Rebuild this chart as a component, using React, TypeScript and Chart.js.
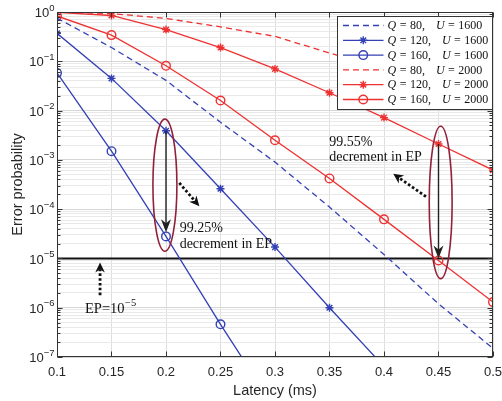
import { useEffect, useRef } from 'react';
import { Chart, registerables } from 'chart.js';

Chart.register(...registerables);

// ---------- data ----------
const latency = [0.1, 0.15, 0.2, 0.25, 0.3, 0.35, 0.4, 0.45, 0.5];
const xTickLabels = ['0.1', '0.15', '0.2', '0.25', '0.3', '0.35', '0.4', '0.45', '0.5'];
const yTickExponents = [0, -1, -2, -3, -4, -5, -6, -7];

const seriesQ = [80, 120, 160, 80, 120, 160];
const seriesU = [1600, 1600, 1600, 2000, 2000, 2000];

const epQ80U1600 = [0.75, 0.19, 0.041, 0.0058, 9e-4, 1.1e-4, 1.2e-5, 1.2e-6, 1.5e-7];
const epQ120U1600 = [0.37, 0.045, 0.0039, 2.6e-4, 1.7e-5, 1.0e-6, 6.4e-8, null, null];
const epQ160U1600 = [0.058, 1.5e-3, 2.8e-5, 4.6e-7, 9e-9, null, null, null, null];
const epQ80U2000 = [0.99, 0.93, 0.74, 0.5, 0.32, 0.147, 0.073, 0.032, 0.013];
const epQ120U2000 = [0.98, 0.85, 0.44, 0.19, 0.07, 0.023, 7.2e-3, 2.1e-3, 6.2e-4];
const epQ160U2000 = [0.83, 0.34, 0.081, 0.016, 2.5e-3, 4.2e-4, 6.2e-5, 9.1e-6, 1.3e-6];

const epThreshold = 1e-5;

// annotations (data coordinates)
const ellipseX = [0.199, 0.452];
const ellipseTop = [6.7e-3, 4.8e-3];
const ellipseBottom = [1.4e-5, 3.9e-6];
const ellipseHalfWidth = [0.011, 0.0105];

const solidArrowX = [0.2, 0.45];
const solidArrowFrom = [3.9e-3, 2.1e-3];
const solidArrowTo = [3.4e-5, 1.0e-5];

const dottedArrowX1 = [0.2122, 0.4385, 0.1395];
const dottedArrowY1 = [3.4e-4, 1.8e-4, 1.8e-6];
const dottedArrowX2 = [0.2306, 0.4085, 0.1395];
const dottedArrowY2 = [1.15e-4, 5.2e-4, 8.3e-6];

const noteX = [0.2125, 0.2125, 0.3498, 0.3498];
const noteY = [4.0e-5, 1.9e-5, 2.24e-3, 1.15e-3];
const noteText = ['99.25%', 'decrement in EP', '99.55%', 'decrement in EP'];
const epLabelX = 0.1257;
const epLabelY = 9.5e-7;

// ---------- styles ----------
const BLUE = '#3341b4';
const RED = '#ee3131';
const MAROON = '#93203a';
const SANS = '"Liberation Sans", Arial, sans-serif';
const SERIF = '"Liberation Serif", "Times New Roman", serif';

const seriesValues = [epQ80U1600, epQ120U1600, epQ160U1600, epQ80U2000, epQ120U2000, epQ160U2000];
const seriesColor = [BLUE, BLUE, BLUE, RED, RED, RED];
const seriesMarker = ['none', 'star', 'circle', 'none', 'star', 'circle'];

function arrowHead(ctx: CanvasRenderingContext2D, x: number, y: number, ang: number, len: number, hw: number, notch: number) {
  ctx.save();
  ctx.translate(x, y);
  ctx.rotate(ang);
  ctx.beginPath();
  ctx.moveTo(0, 0);
  ctx.lineTo(-len, -hw);
  ctx.lineTo(-len + notch, 0);
  ctx.lineTo(-len, hw);
  ctx.closePath();
  ctx.fill();
  ctx.restore();
}

function drawMarker(ctx: CanvasRenderingContext2D, kind: string, x: number, y: number, color: string) {
  ctx.save();
  ctx.strokeStyle = color;
  ctx.lineWidth = 1.4;
  ctx.setLineDash([]);
  if (kind === 'star') {
    const r = 4;
    const d = r * Math.SQRT1_2;
    ctx.beginPath();
    ctx.moveTo(x - r, y); ctx.lineTo(x + r, y);
    ctx.moveTo(x, y - r); ctx.lineTo(x, y + r);
    ctx.moveTo(x - d, y - d); ctx.lineTo(x + d, y + d);
    ctx.moveTo(x - d, y + d); ctx.lineTo(x + d, y - d);
    ctx.stroke();
  } else if (kind === 'circle') {
    ctx.beginPath();
    ctx.arc(x, y, 4.3, 0, Math.PI * 2);
    ctx.stroke();
  }
  ctx.restore();
}

const overlayPlugin = {
  id: 'overlay',
  afterDraw(chart: any) {
    const ctx: CanvasRenderingContext2D = chart.ctx;
    const xs = chart.scales.x;
    const ys = chart.scales.y;
    const { left, right, top, bottom } = chart.chartArea;
    ctx.save();

    // axes box
    ctx.strokeStyle = '#333333';
    ctx.lineWidth = 1;
    ctx.setLineDash([]);
    const L = Math.round(left) + 0.5, R = Math.round(right) - 0.5, T = Math.round(top) + 0.5, B = Math.round(bottom) - 0.5;
    ctx.strokeRect(L, T, R - L, B - T);

    // inward ticks
    ctx.beginPath();
    for (const v of latency) {
      const px = Math.round(xs.getPixelForValue(v)) + 0.5;
      ctx.moveTo(px, B); ctx.lineTo(px, B - 5);
      ctx.moveTo(px, T); ctx.lineTo(px, T + 5);
    }
    for (const e of yTickExponents) {
      for (let m = 1; m <= 9; m++) {
        if (e === 0 && m > 1) continue;
        if (e === yTickExponents[yTickExponents.length - 1] && m > 1 && false) continue;
        const v = m * Math.pow(10, e);
        const py = Math.round(ys.getPixelForValue(v)) + 0.5;
        const len = m === 1 ? 5 : 3;
        ctx.moveTo(L, py); ctx.lineTo(L + len, py);
        ctx.moveTo(R, py); ctx.lineTo(R - len, py);
      }
    }
    ctx.stroke();

    // tick labels
    ctx.fillStyle = '#262626';
    ctx.textBaseline = 'middle';
    ctx.textAlign = 'center';
    ctx.font = `13px ${SANS}`;
    latency.forEach((v, i) => {
      ctx.fillText(xTickLabels[i], xs.getPixelForValue(v), bottom + 15.5);
    });
    ctx.textAlign = 'left';
    for (const e of yTickExponents) {
      const py = ys.getPixelForValue(Math.pow(10, e));
      const expStr = e === 0 ? '0' : '\u2212' + Math.abs(e);
      ctx.font = `9.5px ${SANS}`;
      const ew = ctx.measureText(expStr).width;
      const xr = left - 2.5;
      ctx.fillText(expStr, xr - ew, py - 4);
      ctx.font = `13px ${SANS}`;
      const bw = ctx.measureText('10').width;
      ctx.fillText('10', xr - ew - bw, py + 1.5);
    }

    // ellipses
    ctx.strokeStyle = MAROON;
    ctx.lineWidth = 1.6;
    ellipseX.forEach((ex, i) => {
      const cx = xs.getPixelForValue(ex);
      const rx = xs.getPixelForValue(ex + ellipseHalfWidth[i]) - cx;
      const yt = ys.getPixelForValue(ellipseTop[i]);
      const yb = ys.getPixelForValue(ellipseBottom[i]);
      ctx.beginPath();
      ctx.ellipse(cx, (yt + yb) / 2, rx, (yb - yt) / 2, 0, 0, Math.PI * 2);
      ctx.stroke();
    });

    // solid arrows
    ctx.strokeStyle = '#222222';
    ctx.fillStyle = '#222222';
    ctx.lineWidth = 1.4;
    solidArrowX.forEach((ax, i) => {
      const px = xs.getPixelForValue(ax);
      const y1 = ys.getPixelForValue(solidArrowFrom[i]);
      const y2 = ys.getPixelForValue(solidArrowTo[i]);
      ctx.beginPath();
      ctx.moveTo(px, y1);
      ctx.lineTo(px, y2 - 8);
      ctx.stroke();
      arrowHead(ctx, px, y2, Math.PI / 2, 13, 5, 4);
    });

    // dotted arrows
    ctx.strokeStyle = '#111111';
    ctx.fillStyle = '#111111';
    ctx.lineWidth = 2.8;
    ctx.setLineDash([2.6, 2.2]);
    dottedArrowX1.forEach((ax, i) => {
      const x1 = xs.getPixelForValue(ax);
      const y1 = ys.getPixelForValue(dottedArrowY1[i]);
      const x2 = xs.getPixelForValue(dottedArrowX2[i]);
      const y2 = ys.getPixelForValue(dottedArrowY2[i]);
      const ang = Math.atan2(y2 - y1, x2 - x1);
      const back = 7;
      ctx.beginPath();
      ctx.moveTo(x1, y1);
      ctx.lineTo(x2 - back * Math.cos(ang), y2 - back * Math.sin(ang));
      ctx.stroke();
      ctx.setLineDash([]);
      arrowHead(ctx, x2, y2, ang, 10, 4.8, 3);
      ctx.setLineDash([2.6, 2.2]);
    });
    ctx.setLineDash([]);

    // notes
    ctx.fillStyle = '#111111';
    ctx.textAlign = 'left';
    ctx.textBaseline = 'middle';
    ctx.font = `14px ${SERIF}`;
    noteX.forEach((nx, i) => {
      ctx.fillText(noteText[i], xs.getPixelForValue(nx), ys.getPixelForValue(noteY[i]));
    });
    {
      const px = xs.getPixelForValue(epLabelX);
      const py = ys.getPixelForValue(epLabelY);
      ctx.font = `14.5px ${SERIF}`;
      ctx.fillText('EP=10', px, py);
      const w = ctx.measureText('EP=10').width;
      ctx.font = `10.5px ${SERIF}`;
      ctx.fillText('\u22125', px + w + 0.5, py - 5.5);
    }

    // legend
    const lgRight = Math.round(right) - 0.5;
    const lgLeft = lgRight - 155;
    const lgTop = Math.round(top) + 4.5;
    const lgH = 93;
    ctx.fillStyle = '#ffffff';
    ctx.fillRect(lgLeft, lgTop, lgRight - lgLeft, lgH);
    ctx.strokeStyle = '#333333';
    ctx.lineWidth = 1;
    ctx.strokeRect(lgLeft, lgTop, lgRight - lgLeft, lgH);
    seriesQ.forEach((q, i) => {
      const ry = lgTop + 9 + i * 14.8;
      const sx1 = lgLeft + 5.5;
      const sx2 = lgLeft + 46;
      ctx.strokeStyle = seriesColor[i];
      ctx.lineWidth = 1.3;
      ctx.setLineDash(seriesMarker[i] === 'none' ? [6, 4] : []);
      ctx.beginPath();
      ctx.moveTo(sx1, ry);
      ctx.lineTo(sx2, ry);
      ctx.stroke();
      ctx.setLineDash([]);
      drawMarker(ctx, seriesMarker[i], (sx1 + sx2) / 2, ry, seriesColor[i]);
      // text
      let tx = lgLeft + 50;
      ctx.fillStyle = '#111111';
      ctx.textAlign = 'left';
      ctx.textBaseline = 'middle';
      const parts: [string, boolean, number][] = [
        ['Q', true, 3.5], ['=', false, 3.5], [`${q},`, false, 11],
        ['U', true, 3.5], ['=', false, 3.5], [`${seriesU[i]}`, false, 0],
      ];
      for (const [t, it, gap] of parts) {
        ctx.font = `${it ? 'italic ' : ''}12px ${SERIF}`;
        ctx.fillText(t, tx, ry + 0.5);
        tx += ctx.measureText(t).width + gap;
      }
    });

    ctx.restore();
  },
};

export default function App() {
  const ref = useRef<HTMLCanvasElement>(null);
  useEffect(() => {
    document.body.style.margin = '0';
    const canvas = ref.current!;
    const datasets: any[] = seriesValues.map((vals, i) => ({
      label: `Q = ${seriesQ[i]}, U = ${seriesU[i]}`,
      data: latency.map((x, j) => ({ x, y: vals[j] })),
      borderColor: seriesColor[i],
      backgroundColor: 'transparent',
      borderWidth: 1.3,
      borderDash: seriesMarker[i] === 'none' ? [6, 4] : [],
      pointRadius: seriesMarker[i] === 'none' ? 0 : seriesMarker[i] === 'star' ? 4 : 4.3,
      pointStyle: seriesMarker[i] === 'star' ? 'star' : 'circle',
      pointBorderColor: seriesColor[i],
      pointBackgroundColor: 'transparent',
      pointBorderWidth: 1.4,
      pointHoverRadius: 0,
      tension: 0,
    }));
    datasets.push({
      label: 'EP threshold',
      data: [
        { x: latency[0], y: epThreshold },
        { x: latency[latency.length - 1], y: epThreshold },
      ],
      borderColor: '#111111',
      backgroundColor: 'transparent',
      borderWidth: 2,
      pointRadius: 0,
      tension: 0,
    });

    const chart = new Chart(canvas, {
      type: 'line',
      data: { datasets },
      options: {
        responsive: false,
        animation: false,
        devicePixelRatio: 1,
        events: [],
        layout: { padding: { top: 12, right: 9, left: 0, bottom: 0 } },
        plugins: { legend: { display: false }, tooltip: { enabled: false } },
        scales: {
          x: {
            type: 'linear',
            min: latency[0],
            max: latency[latency.length - 1],
            afterBuildTicks: (s: any) => {
              s.ticks = latency.map((v) => ({ value: v }));
            },
            afterFit: (s: any) => {
              s.height = 44;
            },
            ticks: { display: false },
            grid: { color: '#dedede', lineWidth: 1, drawTicks: false },
            border: { display: false },
            title: {
              display: true,
              text: 'Latency (ms)',
              color: '#262626',
              font: { family: SANS, size: 14.5 },
              padding: { top: 0, bottom: 1 },
            },
          },
          y: {
            type: 'logarithmic',
            min: Math.pow(10, yTickExponents[yTickExponents.length - 1]),
            max: Math.pow(10, yTickExponents[0]),
            afterBuildTicks: (s: any) => {
              const t: any[] = [];
              for (const e of [...yTickExponents].reverse()) {
                for (let m = 1; m <= 9; m++) {
                  if (e === 0 && m > 1) continue;
                  t.push({ value: m * Math.pow(10, e), major: m === 1 });
                }
              }
              s.ticks = t;
            },
            afterFit: (s: any) => {
              s.width = 57;
            },
            ticks: { display: false },
            grid: {
              color: (c: any) => (c.tick && c.tick.major ? '#d6d6d6' : '#e9e9e9'),
              lineWidth: 1,
              drawTicks: false,
            },
            border: { display: false },
            title: {
              display: true,
              text: 'Error probability',
              color: '#262626',
              font: { family: SANS, size: 14.5 },
              padding: { top: 9, bottom: 0 },
            },
          },
        },
      },
      plugins: [overlayPlugin],
    });
    return () => chart.destroy();
  }, []);
  return (
    <div style={{ width: 502, height: 401 }}>
      <canvas ref={ref} width={502} height={401} style={{ display: 'block' }} />
    </div>
  );
}
